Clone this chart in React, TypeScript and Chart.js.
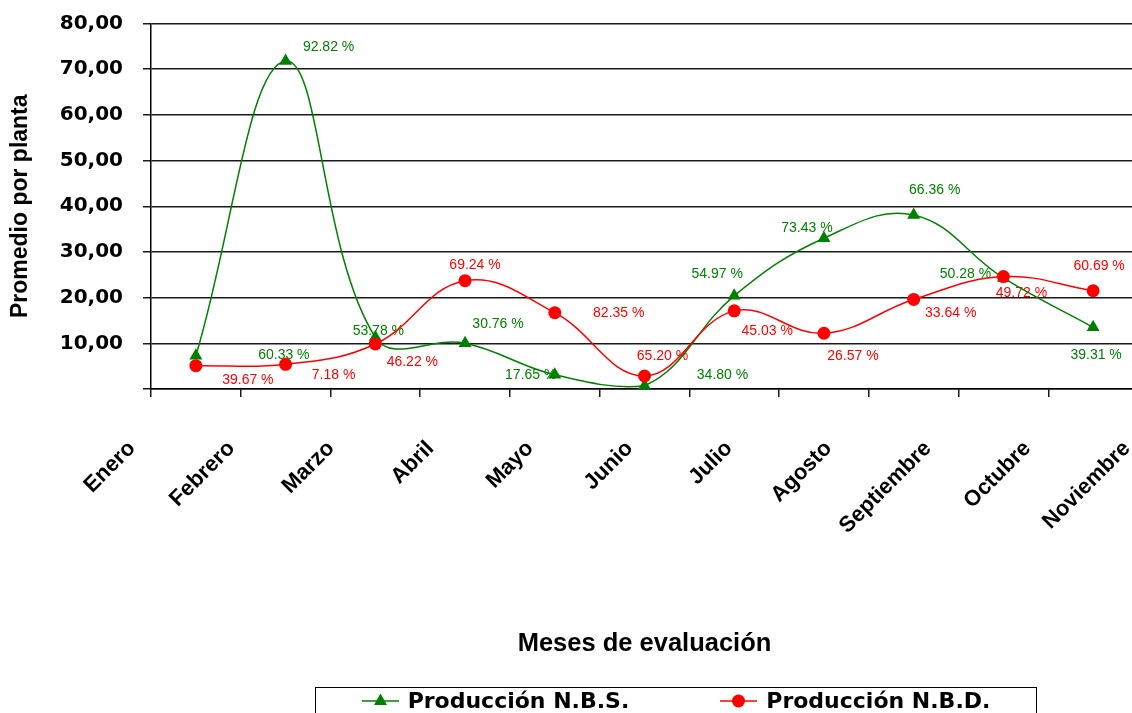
import React, { useEffect, useRef } from 'react';
import { Chart, registerables } from 'chart.js';

Chart.register(...registerables);

// ---- data ----
const months = ['Enero', 'Febrero', 'Marzo', 'Abril', 'Mayo', 'Junio', 'Julio', 'Agosto', 'Septiembre', 'Octubre', 'Noviembre'];
const nbsValues = [7.3, 71.8, 11.3, 10.0, 3.1, 0.7, 20.4, 33.0, 38.1, 24.3, 13.5];
const nbdValues = [5.1, 5.4, 9.85, 23.7, 16.7, 2.85, 17.1, 12.2, 19.6, 24.6, 21.5];
const nbsPct = ['60.33 %', '92.82 %', '53.78 %', '30.76 %', '17.65 %', '34.80 %', '54.97 %', '73.43 %', '66.36 %', '50.28 %', '39.31 %'];
const nbdPct = ['39.67 %', '7.18 %', '46.22 %', '69.24 %', '82.35 %', '65.20 %', '45.03 %', '26.57 %', '33.64 %', '49.72 %', '60.69 %'];
const yTickLabels = ['', '10,00', '20,00', '30,00', '40,00', '50,00', '60,00', '70,00', '80,00'];

// label placement relative to each marker (styling)
const nbsPctOffsets = [[88, -1], [43, -14], [3, -6], [33, -19], [-24, 0], [78, -11], [-17, -22], [-17, -10], [21, -25], [-38, -4], [3, 28]];
const nbdPctOffsets = [[52, 14], [48, 11], [37, 18], [10, -16], [64, 0], [18, -20], [33, 20], [29, 23], [37, 14], [18, 17], [6, -25]];

const GREEN = '#008000';
const RED = '#FF0000';

const pctLabelPlugin = {
  id: 'pctLabels',
  beforeDatasetsDraw(chart: any) {
    const ctx = chart.ctx;
    chart.data.datasets.forEach((ds: any, di: number) => {
      const meta = chart.getDatasetMeta(di);
      ctx.save();
      ctx.font = '14px "Liberation Sans", Arial, sans-serif';
      ctx.fillStyle = ds.borderColor;
      ctx.textAlign = 'center';
      ctx.textBaseline = 'middle';
      meta.data.forEach((el: any, i: number) => {
        const off = ds.pctOffsets[i];
        ctx.fillText(ds.pctLabels[i], el.x + off[0], el.y + off[1]);
      });
      ctx.restore();
    });
  },
};

function Marker({ kind }: { kind: 'tri' | 'dot' }) {
  const color = kind === 'tri' ? GREEN : RED;
  return (
    <svg width={37} height={16} style={{ display: 'block', marginRight: 9 }}>
      <line x1={0} y1={8} x2={37} y2={8} stroke={color} strokeWidth={1.5} />
      {kind === 'tri' ? (
        <polygon points="18.5,0.5 25,12 12,12" fill={color} />
      ) : (
        <circle cx={18.5} cy={8} r={6.5} fill={color} />
      )}
    </svg>
  );
}

export default function App() {
  const ref = useRef<HTMLCanvasElement>(null);

  useEffect(() => {
    const chart = new Chart(ref.current as HTMLCanvasElement, {
      type: 'line',
      data: {
        labels: months,
        datasets: [
          {
            label: 'Producción N.B.S.',
            data: nbsValues,
            borderColor: GREEN,
            backgroundColor: GREEN,
            borderWidth: 1.5,
            tension: 0.4,
            pointStyle: 'triangle',
            pointRadius: 7.5,
            pointBorderWidth: 0,
            pointBackgroundColor: GREEN,
            order: 1,
            clip: false,
            pctLabels: nbsPct,
            pctOffsets: nbsPctOffsets,
          } as any,
          {
            label: 'Producción N.B.D.',
            data: nbdValues,
            borderColor: RED,
            backgroundColor: RED,
            borderWidth: 1.5,
            tension: 0.4,
            pointStyle: 'circle',
            pointRadius: 6.5,
            pointBorderWidth: 0,
            pointBackgroundColor: RED,
            order: 0,
            clip: false,
            pctLabels: nbdPct,
            pctOffsets: nbdPctOffsets,
          } as any,
        ],
      },
      options: {
        responsive: false,
        animation: false,
        devicePixelRatio: 1,
        layout: { padding: { top: 23.5, bottom: 53.6, left: 0, right: 12 } },
        plugins: { legend: { display: false }, tooltip: { enabled: false } },
        scales: {
          y: {
            position: 'left',
            min: 0,
            max: 80,
            ticks: {
              stepSize: 10,
              padding: 20,
              color: '#000',
              font: { family: '"DejaVu Sans", sans-serif', size: 20, weight: 'bold' },
              callback: (_v: any, i: number) => yTickLabels[i],
            },
            grid: { color: '#1a1a1a', lineWidth: 1.5, tickLength: 8, drawTicks: true },
            border: { color: '#000', width: 1.5 },
            title: {
              display: true,
              text: 'Promedio por planta',
              color: '#000',
              font: { family: '"Liberation Sans", Arial, sans-serif', size: 23, weight: 'bold' },
              padding: { top: 6.5, bottom: 0 },
            },
            afterFit: (s: any) => {
              s.width = 151;
              s.paddingTop = 0;
              s.paddingBottom = 0;
            },
          },
          x: {
            type: 'category',
            position: 'bottom',
            offset: true,
            weight: 0,
            ticks: { display: false },
            grid: {
              display: true,
              offset: true,
              drawOnChartArea: false,
              drawTicks: true,
              tickLength: 8,
              color: '#1a1a1a',
              lineWidth: 1.5,
            },
            border: { display: true, color: '#000', width: 1.5 },
            afterFit: (s: any) => {
              s.height = 8;
              s.paddingLeft = 0;
              s.paddingRight = 0;
            },
          },
          x2: {
            type: 'linear',
            axis: 'x',
            position: 'bottom',
            weight: 1,
            bounds: 'data',
            min: 0.191,
            max: 10.111,
            grid: { display: false, drawTicks: false },
            border: { display: false },
            ticks: {
              autoSkip: false,
              minRotation: 45,
              maxRotation: 45,
              padding: 38.7,
              color: '#000',
              font: { family: '"Liberation Sans", Arial, sans-serif', size: 22, weight: 'bold' },
              callback: (_v: any, i: number) => months[i],
            },
            afterBuildTicks: (s: any) => {
              s.ticks = months.map((_m, i) => ({ value: i }));
            },
            title: {
              display: true,
              text: 'Meses de evaluación',
              color: '#000',
              font: { family: '"Liberation Sans", Arial, sans-serif', size: 25.5, weight: 'bold' },
              padding: 0,
            },
            afterFit: (s: any) => {
              s.height = 262.4;
              s.paddingLeft = 0;
              s.paddingRight = 0;
            },
          },
        } as any,
      },
      plugins: [pctLabelPlugin],
    } as any);
    return () => chart.destroy();
  }, []);

  return (
    <div
      style={{
        position: 'absolute',
        left: 0,
        top: 0,
        width: 1132,
        height: 713,
        overflow: 'hidden',
        background: '#fff',
      }}
    >
      <canvas ref={ref} width={1150} height={713} style={{ display: 'block', width: 1150, height: 713 }} />
      <div
        style={{
          position: 'absolute',
          left: 315,
          top: 686.5,
          width: 722,
          height: 60,
          boxSizing: 'border-box',
          border: '1.5px solid #000',
          display: 'flex',
          justifyContent: 'center',
          alignItems: 'flex-start',
          paddingTop: 1,
          fontFamily: '"DejaVu Sans", sans-serif',
          fontWeight: 'bold',
          fontSize: 22,
          lineHeight: '24px',
          color: '#000',
          gap: 91,
        }}
      >
        <div style={{ display: 'flex', alignItems: 'center', height: 24 }}>
          <Marker kind="tri" />
          <span>Producción N.B.S.</span>
        </div>
        <div style={{ display: 'flex', alignItems: 'center', height: 24 }}>
          <Marker kind="dot" />
          <span>Producción N.B.D.</span>
        </div>
      </div>
    </div>
  );
}
